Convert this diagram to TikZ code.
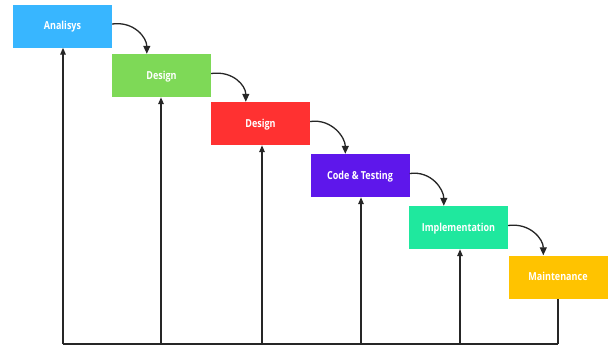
\documentclass[tikz,border=0pt]{standalone}
\usepackage{fontspec}
\newfontfamily\boxfont{Open Sans}[FakeStretch=0.82]
\usetikzlibrary{arrows.meta,calc}
\definecolor{cblue}{HTML}{38B6FF}
\definecolor{cgreen}{HTML}{7ED957}
\definecolor{cred}{HTML}{FF3131}
\definecolor{cviolet}{HTML}{5E17EB}
\definecolor{cmint}{HTML}{1FE89E}
\definecolor{cyellow}{HTML}{FFC300}
\tikzset{
  phase/.style={fill=#1, text=white, minimum width=99pt, minimum height=43pt,
    inner sep=0pt, text height=7.6pt, text depth=0pt,
    font=\boxfont\bfseries\fontsize{11}{12}\selectfont},
  feed/.style={line width=1.4pt, draw=black!85, -{Triangle[length=7pt,width=5.5pt]}},
  flow/.style={line width=1.3pt, draw=black!85, -{Triangle[length=8pt,width=7pt]}},
}
\begin{document}
\begin{tikzpicture}[x=1pt,y=-1pt]
\useasboundingbox (0,0) rectangle (609,346);
% phase boxes, stepping down to the right
\node[phase=cblue]   (p1) at (62.5,26)  {Analisys};
\node[phase=cgreen]  (p2) at (161.5,75.5) {Design};
\node[phase=cred]    (p3) at (260.5,123.5) {Design};
\node[phase=cviolet] (p4) at (360,175.5) {Code \& Testing};
\node[phase=cmint]   (p5) at (458.5,227.5) {Implementation};
\node[phase=cyellow] (p6) at (558,277) {Maintenance};
% feet of the return lines on the base line
\coordinate (b1) at (63,344);
\coordinate (b2) at (161,344);
\coordinate (b3) at (262,344);
\coordinate (b4) at (361,344);
\coordinate (b5) at (460,344);
\coordinate (b6) at (558,344);
\draw[line width=1.4pt, black!85] (b1) -- (b6);
\draw[feed] (b1) -- (p1.south -| b1);
\draw[feed] (b2) -- (p2.south -| b2);
\draw[feed] (b3) -- (p3.south -| b3);
\draw[feed] (b4) -- (p4.south -| b4);
\draw[feed] (b5) -- (p5.south -| b5);
\draw[line width=1.4pt, black!85] (b6) -- (p6.south -| b6);
% curved arrows from each phase to the next
\foreach \a/\b in {p1/p2,p2/p3,p3/p4,p4/p5,p5/p6}{
  \draw[flow] ($(\a.east)+(0,-2)$) .. controls +(22,-3) and +(0,-16) .. ($(\b.north west)+(35,0)$);
}
\end{tikzpicture}
\end{document}
